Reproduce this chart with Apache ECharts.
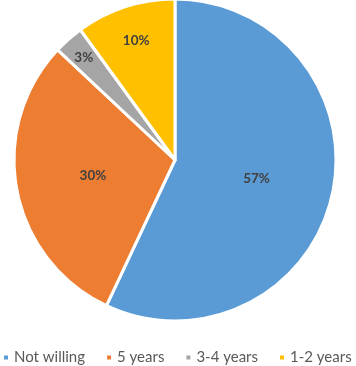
<!DOCTYPE html>
<html>
<head>
<meta charset="utf-8">
<script src="https://cdn.jsdelivr.net/npm/echarts@6/dist/echarts.min.js"></script>
<style>
  html, body { margin: 0; padding: 0; background: #fff; }
  #chart { width: 356px; height: 366px; }
</style>
</head>
<body>
<div id="chart"></div>
<script>
// 数据
var categories = ["Not willing", "5 years", "3-4 years", "1-2 years"];
var values = [57, 30, 3, 10];
var colors = ["#5B9BD5", "#ED7D31", "#A5A5A5", "#FFC000"];
// 小扇区标签往外挪一点（Excel bestFit 的效果）
var labelOffsets = [[0, 0], [0, 0], [-36, -40], [-13, -40]];

var myChart = echarts.init(document.getElementById("chart"));
var pieData = categories.map(function (name, i) {
  return {
    name: name,
    value: values[i],
    itemStyle: { color: colors[i] },
    label: { offset: labelOffsets[i] }
  };
});

myChart.setOption({
  animation: false,
  legend: {
    top: 350,
    left: 0,
    width: 356,
    padding: [0, 0, 0, 2],
    itemWidth: 6,
    itemHeight: 6,
    itemGap: 20,
    icon: "rect",
    textStyle: { color: "#595959", fontSize: 15, fontFamily: "Lato" },
    data: categories
  },
  series: [
    {
      type: "pie",
      center: [175, 160],
      radius: 161,
      startAngle: 90,
      clockwise: true,
      itemStyle: { borderColor: "#fff", borderWidth: 3 },
      label: {
        show: true,
        position: "inside",
        formatter: "{c}%",
        color: "#404040",
        fontWeight: "bold",
        fontSize: 13.5,
        fontFamily: "Lato"
      },
      labelLine: { show: false },
      emphasis: { disabled: true },
      data: pieData
    }
  ]
});
</script>
</body>
</html>
